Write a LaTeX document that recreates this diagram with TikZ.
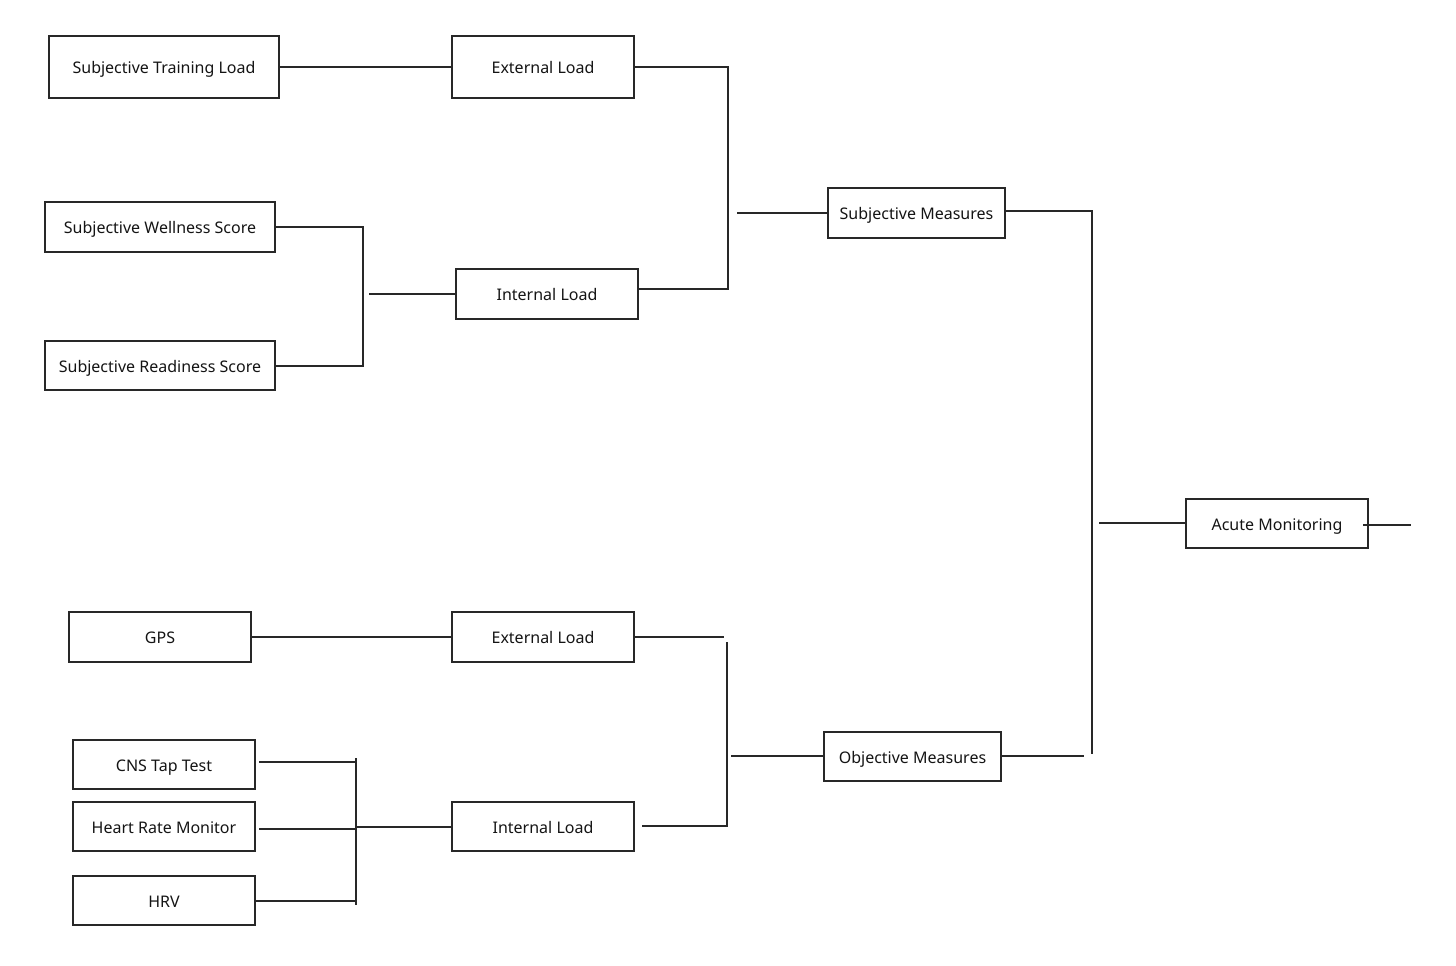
\documentclass[tikz,border=0pt]{standalone}
\usepackage{fontspec}
\setmainfont{Noto Sans}
\definecolor{lc}{RGB}{40,40,40}
\begin{document}
\begin{tikzpicture}[x=0.75pt,y=-0.75pt,
  box/.style={draw=lc, line width=1.4pt, rectangle, inner sep=0pt,
    font=\fontsize{12}{14}\selectfont, text=black!92,
    text height=2.0ex, text depth=0.15ex},
  conn/.style={draw=lc, line width=1.4pt}]
\useasboundingbox (0,0) rectangle (1456,966);
% boxes
\node[box, minimum width=230*0.75pt, minimum height=62*0.75pt] (stl) at (164,67) {Subjective Training Load};
\node[box, minimum width=182*0.75pt, minimum height=62*0.75pt] (ext1) at (543,67) {External Load};
\node[box, minimum width=230*0.75pt, minimum height=50*0.75pt] (sws) at (160,227) {Subjective Wellness Score};
\node[box, minimum width=230*0.75pt, minimum height=49*0.75pt] (srs) at (160,365.5) {Subjective Readiness Score};
\node[box, minimum width=182*0.75pt, minimum height=50*0.75pt] (int1) at (547,294) {Internal Load};
\node[box, minimum width=177*0.75pt, minimum height=50*0.75pt] (subj) at (916.5,213) {Subjective Measures};
\node[box, minimum width=182*0.75pt, minimum height=49*0.75pt] (acute) at (1277,523.5) {Acute Monitoring};
\node[box, minimum width=182*0.75pt, minimum height=50*0.75pt] (gps) at (160,637) {GPS};
\node[box, minimum width=182*0.75pt, minimum height=50*0.75pt] (ext2) at (543,637) {External Load};
\node[box, minimum width=182*0.75pt, minimum height=49*0.75pt] (cns) at (164,764.5) {CNS Tap Test};
\node[box, minimum width=182*0.75pt, minimum height=49*0.75pt] (hrm) at (164,826.5) {Heart Rate Monitor};
\node[box, minimum width=182*0.75pt, minimum height=49*0.75pt] (hrv) at (164,900.5) {HRV};
\node[box, minimum width=182*0.75pt, minimum height=49*0.75pt] (int2) at (543,826.5) {Internal Load};
\node[box, minimum width=177*0.75pt, minimum height=49*0.75pt] (obj) at (912.5,756.5) {Objective Measures};
% bracket coordinates
\coordinate (a1) at (728,67);
\coordinate (a2) at (728,289);
\coordinate (a3) at (737,213);
\coordinate (b1) at (363,227);
\coordinate (b2) at (363,366);
\coordinate (b3) at (369,294);
\coordinate (c1) at (1092,211);
\coordinate (c2) at (1092,754);
\coordinate (c3) at (1099,523);
\coordinate (c4) at (1084,756);
\coordinate (d1) at (724,637);
\coordinate (d2) at (727,642);
\coordinate (d3) at (727,826);
\coordinate (d4) at (731,756);
\coordinate (e1) at (356,758);
\coordinate (e2) at (356,905);
\coordinate (e3) at (356,827);
\coordinate (e4) at (259,762);
\coordinate (e5) at (259,829);
\coordinate (e6) at (255,901);
\coordinate (f1) at (1363,525);
\coordinate (f2) at (1411,525);
% top half
\draw[conn] (stl.east) -- (ext1.west);
\draw[conn] (ext1.east) -- (a1) -- (a2) -- (int1.east |- a2);
\draw[conn] (a3) -- (subj.west);
\draw[conn] (sws.east) -- (b1) -- (b2) -- (srs.east |- b2);
\draw[conn] (b3) -- (int1.west);
% right
\draw[conn] (subj.east |- c1) -- (c1) -- (c2);
\draw[conn] (c3) -- (acute.west |- c3);
\draw[conn] (f1) -- (f2);
% bottom half
\draw[conn] (gps.east) -- (ext2.west);
\draw[conn] (ext2.east) -- (d1);
\draw[conn] (d2) -- (d3) -- ([xshift=5pt]int2.east |- d3);
\draw[conn] (d4) -- (obj.west |- d4);
\draw[conn] (obj.east |- c4) -- (c4);
\draw[conn] (e4) -- (e4 -| e1);
\draw[conn] (e1) -- (e2);
\draw[conn] (e5) -- (e5 -| e1);
\draw[conn] (e6) -- (e6 -| e1);
\draw[conn] (e3) -- (int2.west |- e3);
\end{tikzpicture}
\end{document}
